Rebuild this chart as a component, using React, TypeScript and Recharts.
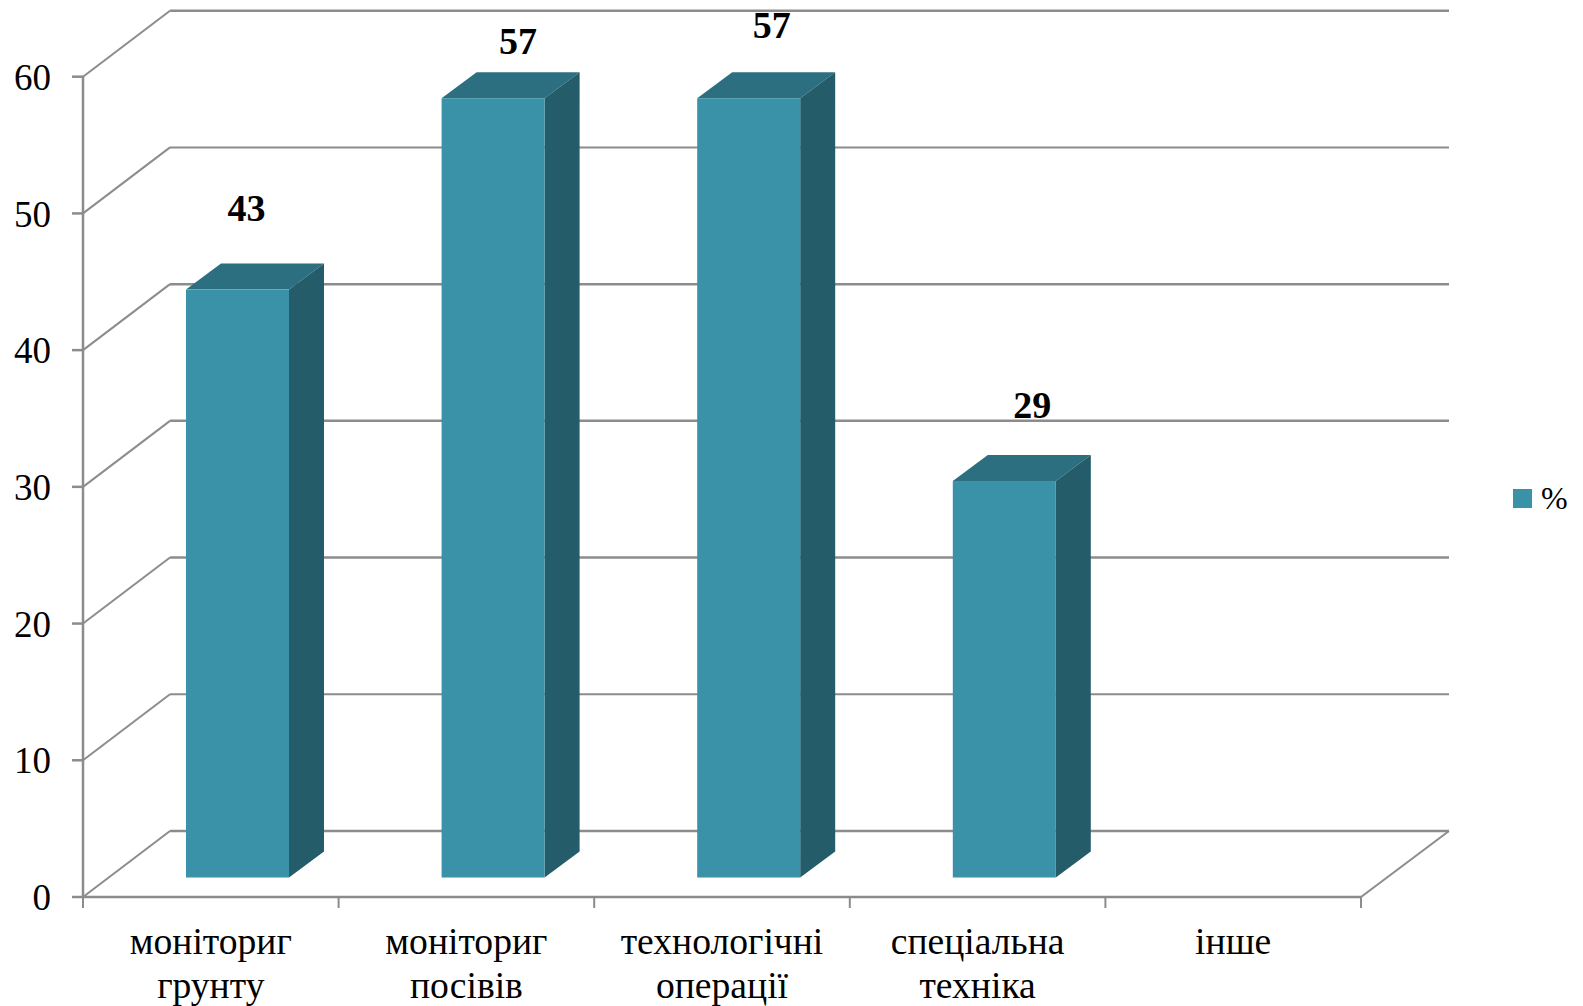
import { BarChart, Bar, XAxis, YAxis, CartesianGrid, LabelList, Legend } from "recharts";

const categories = ["моніториг грунту", "моніториг посівів", "технологічні операції", "спеціальна техніка", "інше"];
const percentValues = [43, 57, 57, 29, null];
const yTicks = [0, 10, 20, 30, 40, 50, 60];

const chartData = categories.map((name, i) => ({ name, value: percentValues[i] }));

// fake 3d: floor/wall depth and how far the bars sit off the front plane
const WALL_DX = 87;
const WALL_DY = 66;
const BAR_SHIFT_X = 27;
const BAR_SHIFT_Y = 19.5;
const BAR_DX = 35;
const BAR_DY = 26;

const GRID = "#8c8c8c";
const FONT = '"Liberation Serif", serif';

// data labels were hand-placed in the original, so each has its own nudge
const labelNudgeX = [9, 25, 23, 28];
const labelGap = [69, 44, 60, 63];

const GridLine = (props: any) => {
  const { x1, x2, y1, index } = props;
  const isFloor = index === 0;
  return (
    <g stroke={GRID} fill="none">
      <line x1={x1} y1={y1} x2={x1 + WALL_DX} y2={y1 - WALL_DY} strokeWidth={2} />
      <line x1={x1 + WALL_DX} y1={y1 - WALL_DY} x2={x2 + WALL_DX + 1} y2={y1 - WALL_DY} strokeWidth={index % 2 === 0 || index === 3 ? 2.5 : 2} />
      {isFloor && <line x1={x2} y1={y1} x2={x2 + WALL_DX + 1} y2={y1 - WALL_DY} strokeWidth={2} />}
    </g>
  );
};

const Box = (props: any) => {
  const { x, y, width, height, value } = props;
  if (value == null) return null;
  const left = x + BAR_SHIFT_X;
  const right = left + width;
  const top = y - BAR_SHIFT_Y;
  const bottom = top + height;
  return (
    <g>
      <polygon points={`${left},${top} ${right},${top} ${right + BAR_DX},${top - BAR_DY} ${left + BAR_DX},${top - BAR_DY}`} fill="#2c6f81" />
      <polygon points={`${right},${top} ${right + BAR_DX},${top - BAR_DY} ${right + BAR_DX},${bottom - BAR_DY} ${right},${bottom}`} fill="#245c69" />
      <rect x={left} y={top} width={width} height={height} fill="#3992a8" />
    </g>
  );
};

const BarValue = (props: any) => {
  const { x, y, width, value, index } = props;
  if (value == null) return null;
  return (
    <text
      x={x + BAR_SHIFT_X + width / 2 + labelNudgeX[index]}
      y={y - BAR_SHIFT_Y - labelGap[index]}
      textAnchor="middle"
      fontFamily={FONT}
      fontSize={38}
      fontWeight="bold"
      fill="#000"
    >
      {value}
    </text>
  );
};

// ticks sit on the band edges, not the centres, so they are drawn with the label
const CategoryTick = (props: any) => {
  const { x, y, payload, index, width } = props;
  const band = width / categories.length;
  const lines = String(payload.value).split(" ");
  return (
    <g>
      <line x1={x - band / 2} y1={y - 11} x2={x - band / 2} y2={y} stroke={GRID} strokeWidth={2} />
      {index === categories.length - 1 && (
        <line x1={x + band / 2} y1={y - 11} x2={x + band / 2} y2={y} stroke={GRID} strokeWidth={2} />
      )}
      <text textAnchor="middle" fontFamily={FONT} fontSize={37.6} fill="#000">
        {lines.map((line, i) => (
          <tspan key={line} x={x} y={y + 46 + i * 44}>
            {line}
          </tspan>
        ))}
      </text>
    </g>
  );
};

const LegendBox = ({ payload }: any) => (
  <div style={{ display: "flex", alignItems: "center", fontFamily: FONT, fontSize: 32, color: "#000", lineHeight: "40px" }}>
    {(payload || []).map((entry: any) => (
      <div key={entry.value} style={{ display: "flex", alignItems: "center" }}>
        <span style={{ width: 19, height: 19, background: entry.color, marginRight: 9, display: "inline-block" }} />
        <span>{entry.value}</span>
      </div>
    ))}
  </div>
);

export default function App() {
  return (
    <div style={{ position: "absolute", left: 0, top: 0, width: 1583, height: 1006, background: "#fff" }}>
      <BarChart width={1583} height={1006} data={chartData} margin={{ top: 76.7, right: 222, bottom: 0, left: 0 }} barSize={103}>
        <CartesianGrid vertical={false} horizontal={(p: any) => <GridLine key={p.key ?? p.index} {...p} />} />
        <XAxis
          dataKey="name"
          interval={0}
          height={109}
          stroke={GRID}
          strokeWidth={2.5}
          tickLine={false}
          tickSize={11}
          tickMargin={0}
          tick={<CategoryTick />}
        />
        <YAxis
          width={83}
          domain={[0, 60]}
          ticks={yTicks}
          interval={0}
          stroke={GRID}
          strokeWidth={2.5}
          tickSize={11}
          tickMargin={21}
          tick={{ fill: "#000", fontSize: 37, fontFamily: FONT }}
        />
        <Legend
          layout="horizontal"
          verticalAlign="middle"
          align="center"
          wrapperStyle={{ left: 1513, top: 478, width: 70, right: "auto", bottom: "auto" }}
          content={<LegendBox />}
        />
        <Bar dataKey="value" name="%" fill="#3992a8" shape={<Box />} isAnimationActive={false}>
          <LabelList dataKey="value" content={<BarValue />} />
        </Bar>
      </BarChart>
    </div>
  );
}
